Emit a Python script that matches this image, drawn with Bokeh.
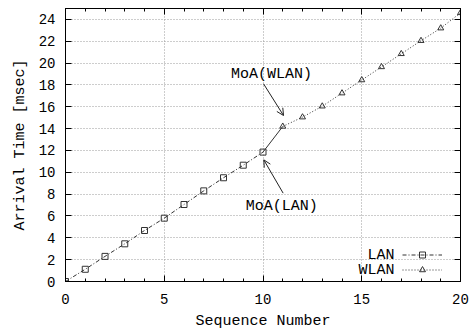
from bokeh.plotting import figure
from bokeh.models import (Range1d, LinearAxis, SingleIntervalTicker, Legend, LegendItem,
                          Arrow, OpenHead, Label)
from bokeh.embed import file_html
from bokeh.resources import INLINE

# ---- data ----
lan_x = [0, 1, 2, 3, 4, 5, 6, 7, 8, 9, 10]
lan_y = [0.0, 1.12, 2.3, 3.45, 4.67, 5.8, 7.05, 8.3, 9.5, 10.65, 11.85]
wlan_x = [11, 12, 13, 14, 15, 16, 17, 18, 19, 20]
wlan_y = [14.2, 15.05, 16.05, 17.25, 18.45, 19.65, 20.85, 22.05, 23.2, 24.6]
series_names = ["LAN", "WLAN"]
x_label = "Sequence Number"
y_label = "Arrival Time [msec]"

FONT = "Liberation Mono"
TICK_FS = "14px"
LABEL_FS = "15px"

p = figure(width=473, height=332, output_backend="svg", toolbar_location=None,
           x_range=Range1d(0, 20), y_range=Range1d(0, 25),
           min_border_left=65, min_border_right=13, min_border_top=8, min_border_bottom=48)
p.background_fill_color = "white"
p.border_fill_color = "white"
p.outline_line_color = "black"
p.outline_line_width = 1

xt = SingleIntervalTicker(interval=5, num_minor_ticks=5)
yt = SingleIntervalTicker(interval=2, num_minor_ticks=0)

p.xaxis.ticker = xt
p.yaxis.ticker = yt
for ax in (p.xaxis[0], p.yaxis[0]):
    ax.major_tick_in = 6
    ax.major_tick_out = 0
    ax.minor_tick_in = 3
    ax.minor_tick_out = 0
    ax.axis_line_color = "black"
    ax.major_tick_line_color = "black"
    ax.minor_tick_line_color = "black"
    ax.major_label_text_font = FONT
    ax.major_label_text_font_size = TICK_FS
    ax.major_label_text_color = "black"
    ax.axis_label_text_font = FONT
    ax.axis_label_text_font_size = LABEL_FS
    ax.axis_label_text_font_style = "normal"
    ax.axis_label_text_color = "black"
p.xaxis.axis_label = x_label
p.yaxis.axis_label = y_label
p.xaxis.major_label_standoff = 12
p.xaxis.axis_label_standoff = 6
p.yaxis.major_label_standoff = 10
p.yaxis.axis_label_standoff = 7

# mirrored ticks on top and right (labels not drawn)
top = LinearAxis(ticker=xt, major_tick_in=6, major_tick_out=0, minor_tick_in=3, minor_tick_out=0,
                 major_label_text_font_size="1px", major_label_text_color=None,
                 major_label_standoff=0, axis_line_color="black")
right = LinearAxis(ticker=yt, major_tick_in=6, major_tick_out=0, minor_tick_in=0, minor_tick_out=0,
                   major_label_text_font_size="1px", major_label_text_color=None,
                   major_label_standoff=0, axis_line_color="black")
p.add_layout(top, "above")
p.add_layout(right, "right")

p.grid.grid_line_color = "#9a9a9a"
p.grid.grid_line_dash = "1 2"
p.grid.grid_line_width = 1
p.xgrid.ticker = xt
p.ygrid.ticker = yt

LINE_C = "#333333"
lan_line = p.line(lan_x, lan_y, line_color=LINE_C, line_width=1, line_dash="4 2 1 2")
lan_pts = p.scatter(lan_x, lan_y, marker="square", size=6, fill_color=None,
                    line_color=LINE_C, line_width=1)
wlan_line = p.line(wlan_x, wlan_y, line_color=LINE_C, line_width=1, line_dash="1 2")
wlan_pts = p.scatter(wlan_x, wlan_y, marker="triangle", size=6, fill_color=None,
                     line_color=LINE_C, line_width=1)
# hand-off segment between the two series
p.line([lan_x[-1], wlan_x[0]], [lan_y[-1], wlan_y[0]], line_color=LINE_C, line_width=1)

# legend: samples via Legend, labels to their left
legend = Legend(items=[LegendItem(label=series_names[0], renderers=[lan_line, lan_pts]),
                       LegendItem(label=series_names[1], renderers=[wlan_line, wlan_pts])],
                location=(337, 4), padding=0, margin=0, spacing=0,
                glyph_width=40, glyph_height=15, label_width=0, label_standoff=0,
                label_text_font_size="1px", label_text_color=None,
                border_line_color=None, background_fill_alpha=0)
p.add_layout(legend)
LEG_TX = 16.66
LEG_TY = [2.36, 1.0]
for name, ty in zip(series_names, LEG_TY):
    p.add_layout(Label(x=LEG_TX, y=ty, text=name, text_align="right", text_baseline="middle",
                       text_font=FONT, text_font_size=LABEL_FS, text_color="black"))

# annotations
ANN = [
    ("MoA(WLAN)", 10.43, 19.0, 10.03, 18.1, 11.04, 15.2),
    ("MoA(LAN)", 10.95, 6.88, 11.02, 8.09, 10.04, 11.14),
]
for txt, tx, ty, xs, ys, xe, ye in ANN:
    p.add_layout(Label(x=tx, y=ty, text=txt, text_align="center", text_baseline="middle",
                       text_font=FONT, text_font_size=LABEL_FS, text_color="black"))
    p.add_layout(Arrow(x_start=xs, y_start=ys, x_end=xe, y_end=ye, line_width=1, line_color="#222222",
                       end=OpenHead(size=7, line_width=1, line_color="#222222")))

open("out.html", "w").write(file_html(p, INLINE))
